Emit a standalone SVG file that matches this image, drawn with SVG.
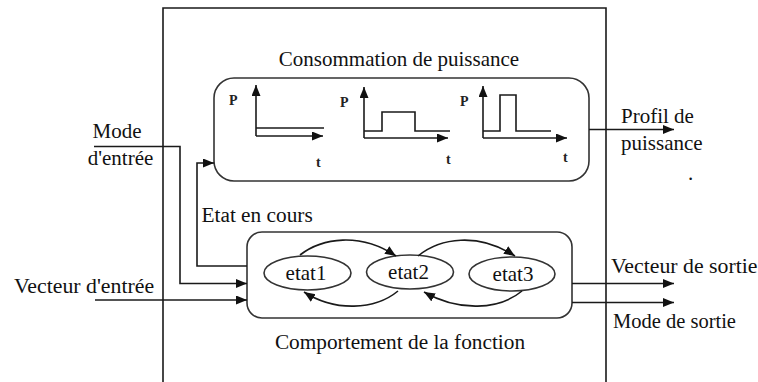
<svg xmlns="http://www.w3.org/2000/svg" width="758" height="382" viewBox="0 0 758 382">
<style>
  .ln{fill:none;stroke:#1a1a1a;stroke-width:1.6}
  .box{fill:#fff;stroke:#333;stroke-width:1.6}
  .tx{font-family:"Liberation Serif","Times New Roman",serif;font-size:21px;fill:#111}
  .wide{font-size:21.8px}
  .ax{font-family:"Liberation Serif","Times New Roman",serif;font-size:14px;font-weight:bold;fill:#222}
  .arr{marker-end:url(#ah)}
</style>
<defs>
  <marker id="ah" markerUnits="userSpaceOnUse" markerWidth="12" markerHeight="10" refX="11" refY="4.5" orient="auto">
    <path d="M0,0 L11,4.5 L0,9 z" fill="#111"/>
  </marker>
</defs>
<rect width="758" height="382" fill="#fff"/>
<g id="frame">
  <path class="ln" d="M163,390 V8 H606 V390"/>
</g>
<g id="consommation">
  <rect class="box" x="214" y="78" width="375" height="103" rx="20"/>
  <text class="tx" x="399" y="66" text-anchor="middle" font-size="20.5">Consommation de puissance</text>
  <g id="graph1">
    <path class="ln arr" d="M256,136 V85"/>
    <path class="ln arr" d="M256,136 H323"/>
    <path class="ln" d="M256,128 H324"/>
    <text class="ax" x="229" y="105">P</text>
    <text class="ax" x="316" y="167">t</text>
  </g>
  <g id="graph2">
    <path class="ln arr" d="M364,138 V87"/>
    <path class="ln arr" d="M364,138 H448"/>
    <path class="ln" d="M364,131 H382 V112 H415 V131 H450"/>
    <text class="ax" x="340" y="107">P</text>
    <text class="ax" x="446" y="164">t</text>
  </g>
  <g id="graph3">
    <path class="ln arr" d="M483,138 V86"/>
    <path class="ln arr" d="M483,138 H567"/>
    <path class="ln" d="M483,131 H500 V95 H516 V131 H551"/>
    <text class="ax" x="460" y="106">P</text>
    <text class="ax" x="563" y="162">t</text>
  </g>
</g>
<g id="comportement">
  <rect class="box" x="247" y="232" width="325" height="86" rx="15"/>
  <text class="tx" x="400" y="349" text-anchor="middle" style="font-size:21.3px">Comportement de la fonction</text>
</g>
<g id="etat1">
  <ellipse class="box" cx="307.5" cy="273" rx="43.5" ry="17"/>
  <text class="tx" x="306" y="280" text-anchor="middle">etat1</text>
</g>
<g id="etat2">
  <ellipse class="box" cx="410" cy="272" rx="43.5" ry="17"/>
  <text class="tx" x="408.5" y="279" text-anchor="middle">etat2</text>
</g>
<g id="etat3">
  <ellipse class="box" cx="512" cy="274" rx="43" ry="17"/>
  <text class="tx" x="513" y="281" text-anchor="middle">etat3</text>
</g>
<g id="connectors">
  <path class="ln arr" d="M300,255 C322,238 360,232 396,256"/>
  <path class="ln arr" d="M418,256 C440,238 478,232 515,256"/>
  <path class="ln arr" d="M398,291 C375,310 335,312 304,292"/>
  <path class="ln arr" d="M522,291 C499,310 459,312 424,292"/>
  <path class="ln arr" d="M94,146.5 H180 V283.5 H247"/>
  <path class="ln arr" d="M95,300 H247"/>
  <path class="ln arr" d="M247,266 H197 V163 H214"/>
  <path class="ln arr" d="M589,129.5 H674"/>
  <path class="ln arr" d="M572,283.5 H674"/>
  <path class="ln arr" d="M572,302.5 H674"/>
</g>
<g id="labels">
  <text class="tx" x="117" y="138" text-anchor="middle">Mode</text>
  <text class="tx" x="120.5" y="165" text-anchor="middle">d'entrée</text>
  <text class="tx wide" x="14" y="293">Vecteur d'entrée</text>
  <text class="tx" x="201.5" y="221.5" style="font-size:21.3px">Etat en cours</text>
  <text class="tx" x="621" y="123">Profil de</text>
  <text class="tx" x="621" y="150">puissance</text>
  <text class="tx" x="688" y="180">.</text>
  <text class="tx wide" x="611" y="273">Vecteur de sortie</text>
  <text class="tx" x="613" y="328" style="font-size:20.5px">Mode de sortie</text>
</g>
</svg>
